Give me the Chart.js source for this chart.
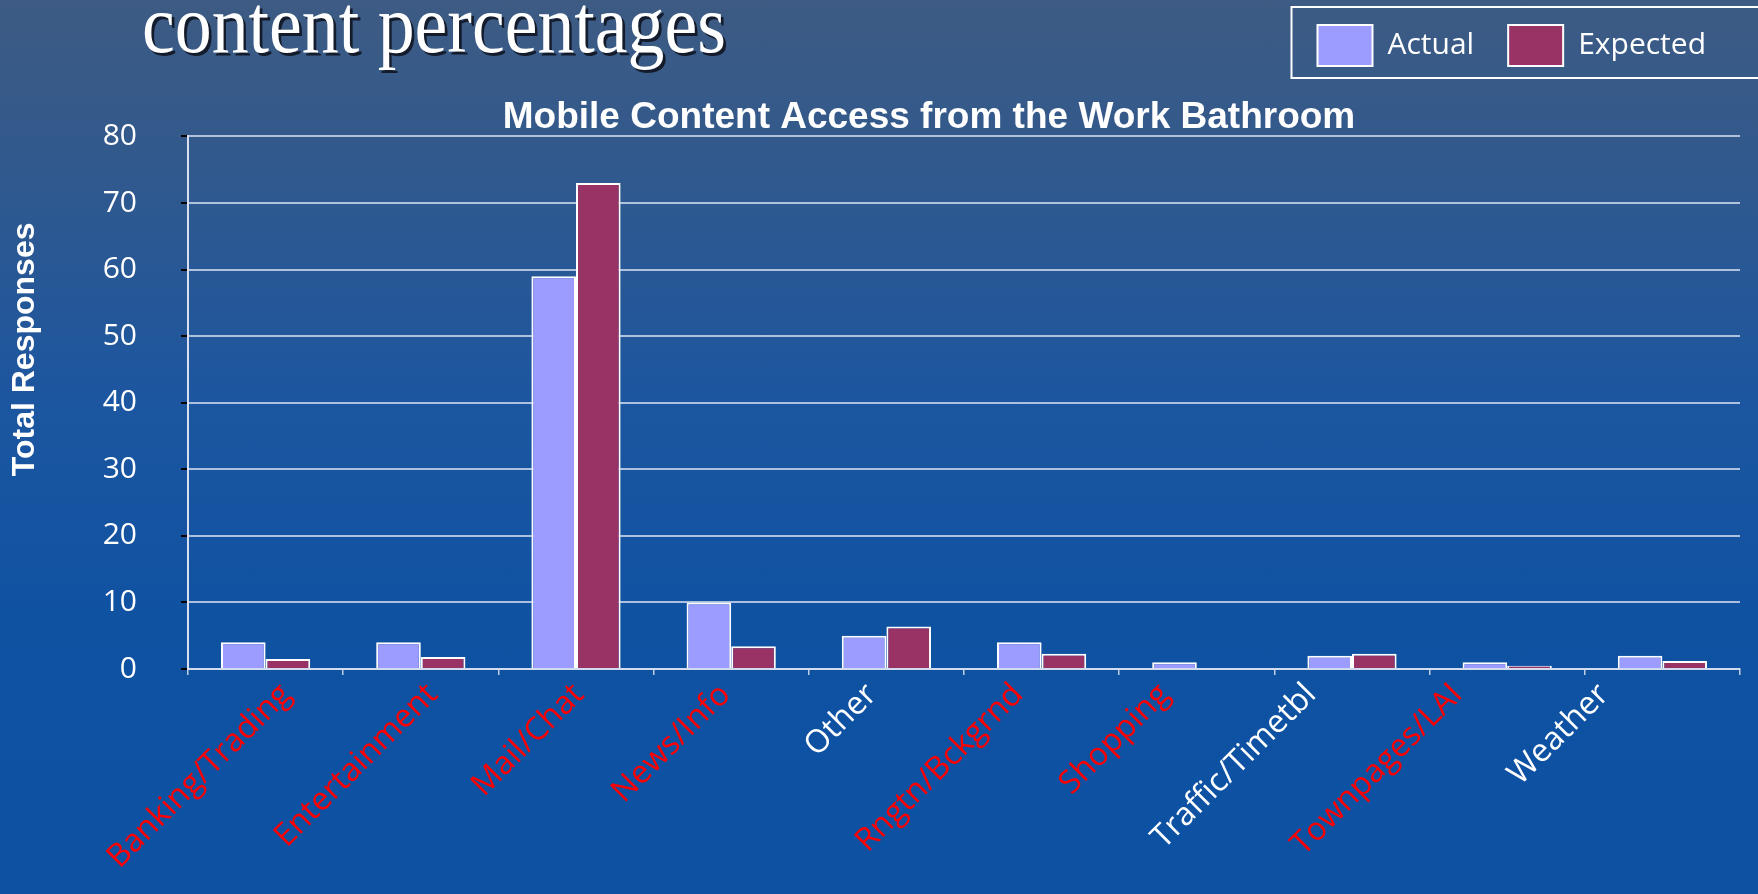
<!DOCTYPE html>
<html>
<head>
<meta charset="utf-8">
<title>Mobile Content Access from the Work Bathroom</title>
<script src="https://cdn.jsdelivr.net/npm/chart.js@4.4.1/dist/chart.umd.min.js"></script>
<style>
  html, body { margin: 0; padding: 0; width: 1758px; height: 894px; overflow: hidden; }
  body {
    position: relative;
    background: linear-gradient(to bottom, #3d5b83 0%, #30598e 20%, #1c56a0 45%, #0f52a2 70%, #0d51a3 100%);
  }
  .wrap { position: absolute; left: 0; top: 0; width: 1858px; height: 894px; }
  h1 {
    position: absolute; left: 142px; top: -16px; margin: 0;
    font: normal 82px 'Liberation Serif', 'Times New Roman', serif;
    line-height: 1; color: #fff; white-space: nowrap;
    text-shadow: 3px 3px 0 #141c2c;
    transform: scaleX(0.9); transform-origin: left top;
  }
</style>
</head>
<body>
<div class="wrap"><canvas id="chart"></canvas></div>
<h1>content percentages</h1>
<script>
// Data
const categories = ['Banking/Trading', 'Entertainment', 'Mail/Chat', 'News/Info', 'Other',
  'Rngtn/Bckgrnd', 'Shopping', 'Traffic/Timetbl', 'Townpages/LAI', 'Weather'];
const actual = [4, 4, 59, 10, 5, 4, 1, 2, 1, 2];
const expected = [1.5, 1.8, 73, 3.4, 6.4, 2.3, 0, 2.3, 0.5, 1.2];
const labelColors = ['#ff0000', '#ff0000', '#ff0000', '#ff0000', '#ffffff',
  '#ff0000', '#ff0000', '#ffffff', '#ff0000', '#ffffff'];
const yMin = 0, yMax = 80, yStep = 10;

// white frame round the legend
const legendFrame = {
  id: 'legendFrame',
  afterDraw(chart) {
    const boxes = chart.legend && chart.legend.legendHitBoxes;
    if (!boxes || !boxes.length) return;
    const first = boxes[0], last = boxes[boxes.length - 1];
    const x0 = first.left - 26;
    const x1 = last.left + last.width + 60;
    const ctx = chart.ctx;
    ctx.save();
    ctx.strokeStyle = '#ffffff';
    ctx.lineWidth = 2;
    ctx.strokeRect(x0, first.top - 18, x1 - x0, first.height + 30);
    ctx.restore();
  }
};

new Chart(document.getElementById('chart'), {
  type: 'bar',
  data: {
    labels: categories,
    datasets: [
      { label: 'Actual', data: actual, backgroundColor: '#9c9cff', borderColor: '#ffffff', borderWidth: 2 },
      { label: 'Expected', data: expected, backgroundColor: '#993366', borderColor: '#ffffff', borderWidth: 2 }
    ]
  },
  options: {
    responsive: true,
    maintainAspectRatio: false,
    animation: false,
    categoryPercentage: 0.575,
    barPercentage: 1.0,
    layout: { padding: { top: -9, right: 0, bottom: 0, left: 0 } },
    plugins: {
      legend: {
        position: 'top',
        align: 'end',
        fullSize: false,
        weight: 3000,
        labels: {
          color: '#ffffff',
          font: { family: "'Open Sans', sans-serif", size: 30 },
          boxWidth: 55,
          boxHeight: 41,
          padding: 34
        }
      },
      title: {
        display: true,
        text: 'Mobile Content Access from the Work Bathroom',
        color: '#ffffff',
        font: { family: "'Liberation Sans', Arial, sans-serif", size: 37, weight: 'bold' },
        padding: { top: 20, bottom: -4 }
      },
      tooltip: { enabled: false }
    },
    scales: {
      x: {
        afterFit: s => { s.height = 6; },
        grid: { drawOnChartArea: false, color: 'rgba(220,228,242,0.85)', tickLength: 6, lineWidth: 1.5 },
        border: { color: 'rgba(215,224,240,0.9)', width: 2 },
        ticks: { display: false }
      },
      // category names: the slide spaces them a little tighter than the bars
      xNames: {
        type: 'linear',
        position: 'bottom',
        weight: 1,
        offset: false,
        bounds: 'data',
        min: -0.67,
        max: 9.93,
        afterFit: s => { s.height = 219; },
        afterBuildTicks: s => { s.ticks = categories.map((c, i) => ({ value: i })); },
        grid: { display: false, drawTicks: false, offset: false },
        border: { display: false },
        ticks: {
          autoSkip: false,
          maxRotation: 45,
          minRotation: 45,
          padding: 1,
          callback: v => categories[v],
          color: ctx => labelColors[ctx.index],
          font: { family: "'Open Sans', sans-serif", size: 32 }
        }
      },
      y: {
        min: yMin,
        max: yMax,
        afterFit: s => { s.width = 188; },
        grid: { color: 'rgba(210,220,240,0.8)', lineWidth: 2, tickColor: '#000000', tickLength: 7 },
        border: { color: '#d8e0f0', width: 2 },
        ticks: {
          stepSize: yStep,
          padding: 44,
          color: '#ffffff',
          font: { family: "'Open Sans', sans-serif", size: 30 }
        },
        title: {
          display: true,
          text: '\u00a0'.repeat(12) + 'Total Responses',
          color: '#ffffff',
          font: { family: "'Liberation Sans', Arial, sans-serif", size: 32, weight: 'bold' },
          padding: { top: 6, bottom: 0 }
        }
      },
      // empty right-hand axis that only reserves the slide margin
      y2: {
        position: 'right',
        afterFit: s => { s.width = 118; },
        grid: { display: false },
        border: { display: false },
        ticks: { display: false }
      }
    }
  },
  plugins: [legendFrame]
});
</script>
</body>
</html>
